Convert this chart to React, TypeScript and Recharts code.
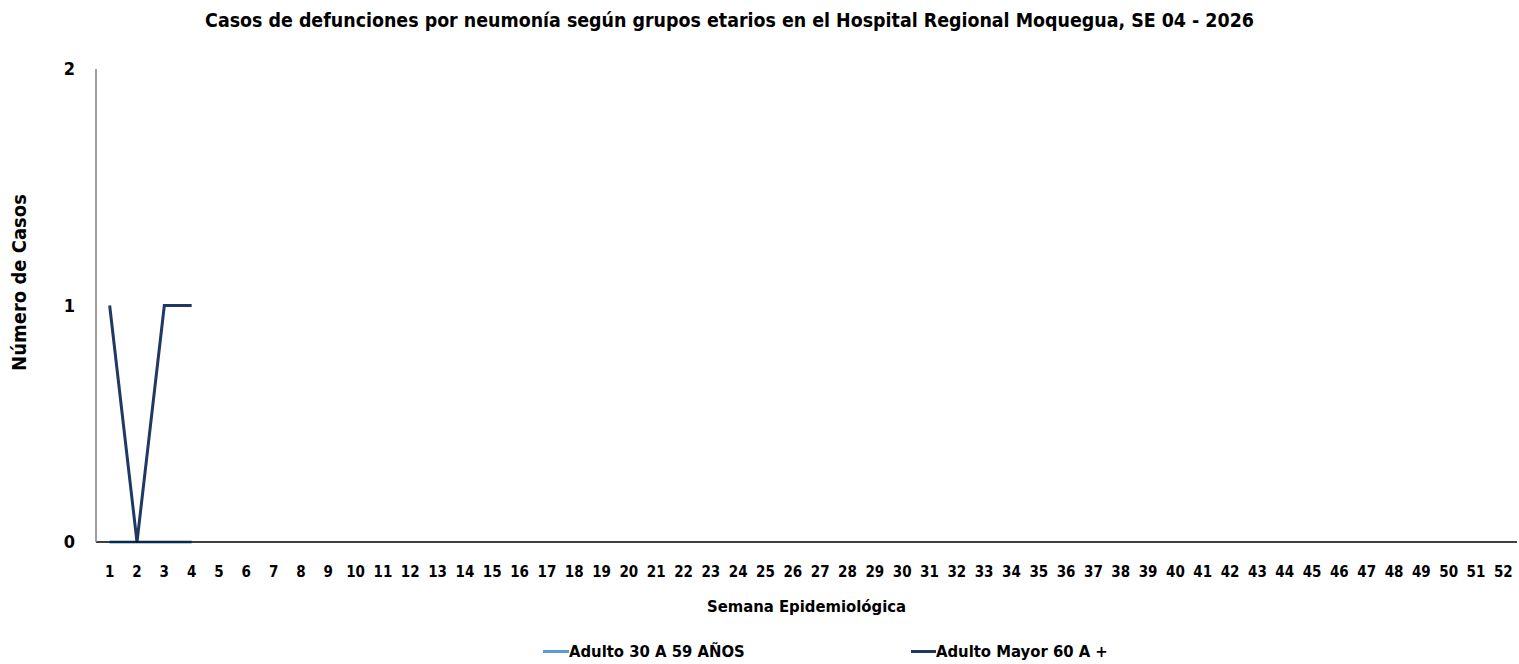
import React from "react";
import { LineChart, Line, XAxis, YAxis, Legend } from "recharts";

const weeks: string[] = Array.from({ length: 52 }, (_, i) => String(i + 1));
const adulto30a59: (number | null)[] = [0, 0, 0, 0];
const adultoMayor60: (number | null)[] = [1, 0, 1, 1];
const yTicks = [0, 1, 2];

const data = weeks.map((w, i) => ({
  week: w,
  a: i < adulto30a59.length ? adulto30a59[i] : null,
  b: i < adultoMayor60.length ? adultoMayor60[i] : null,
}));

const FONT = "'Liberation Sans Narrow', 'DejaVu Sans Condensed', sans-serif";

const LegendContent = () => (
  <div style={{ position: "relative", height: 24, fontFamily: FONT, fontWeight: 700, fontSize: 16.5, color: "#000" }}>
    <div style={{ position: "absolute", left: 543, top: 0, display: "flex", alignItems: "center" }}>
      <span style={{ display: "inline-block", width: 26, height: 3, background: "#5B9BD5" }} />
      <span>Adulto 30 A 59 AÑOS</span>
    </div>
    <div style={{ position: "absolute", left: 911, top: 0, display: "flex", alignItems: "center" }}>
      <span style={{ display: "inline-block", width: 25, height: 3, background: "#203864" }} />
      <span>Adulto Mayor 60 A +</span>
    </div>
  </div>
);

export default function App() {
  return (
    <div style={{ position: "absolute", left: 0, top: 0, width: 1519, height: 664, background: "#fff" }}>
      <div
        style={{
          position: "absolute",
          left: 0,
          width: 1459,
          top: 9,
          textAlign: "center",
          fontFamily: FONT,
          fontWeight: 700,
          fontSize: 19.4,
          color: "#000",
        }}
      >
        Casos de defunciones por neumonía según grupos etarios en el Hospital Regional Moquegua, SE 04 - 2026
      </div>
      <LineChart width={1519} height={664} data={data} margin={{ top: 69, right: 2, left: 0, bottom: 20 }}>
        <XAxis
          dataKey="week"
          scale="band"
          tickLine={false}
          axisLine={{ stroke: "#000", strokeWidth: 1.5 }}
          interval={0}
          height={78}
          tick={{ fill: "#000", fontSize: 15, fontWeight: 700, fontFamily: FONT }}
          tickMargin={18}
          label={{
            value: "Semana Epidemiológica",
            position: "insideBottom",
            offset: 8,
            style: { fill: "#000", fontSize: 16.5, fontWeight: 700, fontFamily: FONT },
          }}
        />
        <YAxis
          width={96}
          domain={[0, 2]}
          ticks={yTicks}
          tickLine={false}
          axisLine={{ stroke: "#808080", strokeWidth: 1.5 }}
          tick={{ fill: "#000", fontSize: 18, fontWeight: 700, fontFamily: FONT }}
          tickMargin={15}
          label={{
            value: "Número de Casos",
            angle: -90,
            position: "insideLeft",
            offset: 19,
            dy: -23,
            style: { fill: "#000", fontSize: 20, fontWeight: 700, fontFamily: FONT, textAnchor: "middle" },
          }}
        />
        <Legend verticalAlign="bottom" content={<LegendContent />} wrapperStyle={{ left: 0, bottom: -2, width: 1519 }} />
        <Line type="linear" dataKey="a" stroke="#5B9BD5" strokeWidth={3} dot={false} isAnimationActive={false} connectNulls={false} />
        <Line type="linear" dataKey="b" stroke="#203864" strokeWidth={3} dot={false} isAnimationActive={false} connectNulls={false} />
      </LineChart>
    </div>
  );
}
